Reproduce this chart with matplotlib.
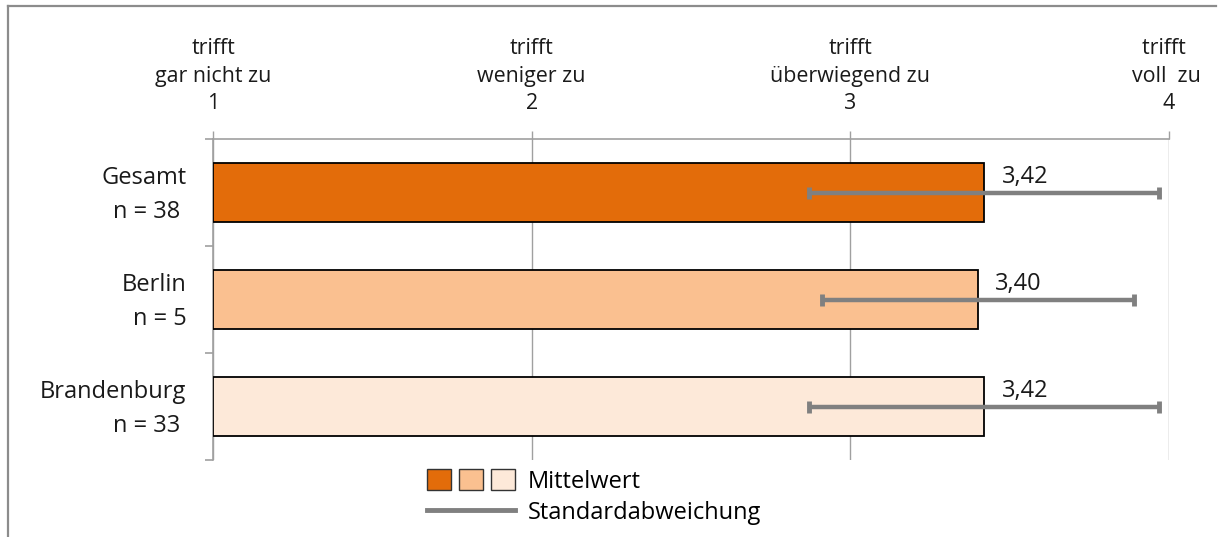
#!/usr/bin/env python3
"""Mittelwerte mit Standardabweichung, horizontale Balken."""

import matplotlib
matplotlib.use('Agg')
import matplotlib.pyplot as plt
from matplotlib.patches import Patch
from matplotlib.lines import Line2D
from matplotlib.legend_handler import HandlerTuple
from matplotlib.transforms import ScaledTranslation

plt.rcParams['font.family'] = ['Open Sans', 'DejaVu Sans']

# Daten
groups = ['Gesamt\nn = 38 ', 'Berlin\nn = 5', 'Brandenburg\nn = 33 ']
means = [3.42, 3.40, 3.42]
sds = [0.55, 0.49, 0.55]
value_labels = ['3,42', '3,40', '3,42']
colors = ['#E36C0A', '#FAC090', '#FDE9D9']
scale_ticks = [1, 2, 3, 4]
scale_labels = ['trifft\ngar nicht zu\n1', 'trifft\nweniger zu\n2',
                'trifft\nüberwiegend zu\n3', 'trifft  \nvoll  zu \n4']

W, H = 1221, 537
fig = plt.figure(figsize=(W / 100, H / 100), dpi=100)
ax = fig.add_axes([213 / W, 77 / H, (1169 - 213) / W, (460 - 139) / H])

grid_c = '#a0a0a0'
y = list(range(len(groups)))

# Balken (von 1 aus)
ax.barh(y, [m - 1 for m in means], left=1, height=0.56, color=colors,
        edgecolor='black', linewidth=1.3, zorder=3)
ax.errorbar(means, y, xerr=sds, fmt='none', ecolor='#808080', elinewidth=3.2,
            capsize=4, capthick=3.5, zorder=4)
for m, yy, lab in zip(means, y, value_labels):
    ax.annotate(lab, (m, yy), xytext=(12.5, 11), textcoords='offset points',
                ha='left', va='center', fontsize=17, color='#1a1a1a', zorder=5)

ax.set_xlim(1, 4)
ax.set_ylim(len(groups) - 0.5, -0.5)

# obere Skala
ax.xaxis.tick_top()
ax.set_xticks(scale_ticks)
ax.set_xticklabels(scale_labels, fontsize=15.4, linespacing=1.4, color='#1a1a1a')
ax.tick_params(axis='x', length=6, width=1, color=grid_c, pad=12)
ax.grid(axis='x', color=grid_c, linewidth=1, zorder=0)

# linke Achse
ax.set_yticks(y)
ax.set_yticklabels(groups, fontsize=17, linespacing=1.55, color='#1a1a1a')
ax.set_yticks([i - 0.5 for i in range(len(groups) + 1)], minor=True)
ax.tick_params(axis='y', which='major', length=0, pad=19)
ax.tick_params(axis='y', which='minor', length=6, width=1.2, color=grid_c)
shift_up = ScaledTranslation(0, 4 / 72, fig.dpi_scale_trans)
for lab in ax.get_yticklabels():
    lab.set_transform(lab.get_transform() + shift_up)

for s in ['right', 'bottom']:
    ax.spines[s].set_visible(False)
for s in ['top', 'left']:
    ax.spines[s].set_color(grid_c)
    ax.spines[s].set_linewidth(1.2)

# Legende
squares = tuple(Patch(facecolor=c, edgecolor='#333333', linewidth=1) for c in colors)
sd_line = Line2D([], [], color='#808080', linewidth=3.5)
fig.legend([squares, sd_line], ['Mittelwert', 'Standardabweichung'],
           handler_map={tuple: HandlerTuple(ndivide=None, pad=0.34)},
           loc='upper left', bbox_to_anchor=(427 / W, (H - 469) / H),
           frameon=False, fontsize=17, handlelength=3.73, handleheight=1.0,
           handletextpad=0.55, labelspacing=0.3, borderpad=0, borderaxespad=0)

# Rahmen (oben und links sichtbar)
frame_c = '#8c8c8c'
fig.add_artist(Line2D([8 / W, 1216 / W], [(H - 6) / H, (H - 6) / H],
                      color=frame_c, linewidth=1.6, transform=fig.transFigure))
fig.add_artist(Line2D([8 / W, 8 / W], [0, (H - 6) / H],
                      color=frame_c, linewidth=1.6, transform=fig.transFigure))

fig.savefig('out.png', dpi=100)
